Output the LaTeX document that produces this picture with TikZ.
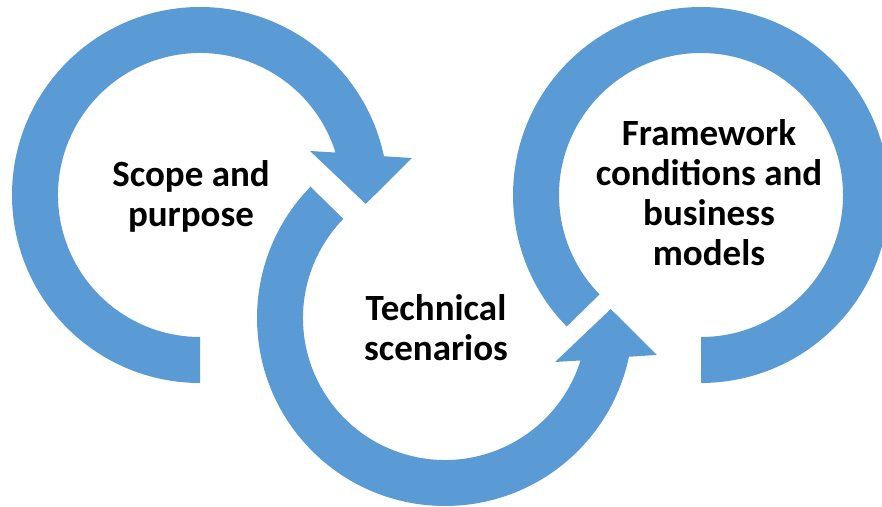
\documentclass[tikz,border=0pt]{standalone}
\usepackage{fontspec}
\setmainfont{Carlito}
\definecolor{arrowblue}{HTML}{5B9BD5}
\begin{document}
\begin{tikzpicture}[x=1pt,y=1pt,
  ringshape/.style={fill=arrowblue, draw=none},
  ringtext/.style={font=\bfseries\fontsize{37}{40}\selectfont, align=center, text=black, inner sep=0pt}]
\useasboundingbox (0,0) rectangle (882,506);
\clip (0,0) rectangle (882,506);
\coordinate (c1) at (200,311);
\coordinate (c2) at (445,188);
\coordinate (c3) at (701,311);
% ring 1: clockwise, arrowhead at right
\fill[ringshape] ([shift={(270:188pt)}]c1) arc[start angle=270, end angle=11.9, radius=188pt]
  -- ([shift={(9.9:215pt)}]c1) -- ([shift={(-3.1:166pt)}]c1) -- ([shift={(21.8:118.5pt)}]c1)
  -- ([shift={(17.4:142pt)}]c1) arc[start angle=17.4, end angle=270, radius=142pt] -- cycle;
% ring 2: counter-clockwise, arrowhead at right
\fill[ringshape] ([shift={(135.7:188pt)}]c2) arc[start angle=135.7, end angle=348.1, radius=188pt]
  -- ([shift={(-9.9:215pt)}]c2) -- ([shift={(3.1:166pt)}]c2) -- ([shift={(-21.8:118.5pt)}]c2)
  -- ([shift={(-17.4:142pt)}]c2) arc[start angle=342.6, end angle=135.7, radius=142pt] -- cycle;
% ring 3: clockwise, no arrowhead
\fill[ringshape] ([shift={(224.4:188pt)}]c3) arc[start angle=224.4, end angle=-90, radius=188pt]
  -- ([shift={(-90:142pt)}]c3) arc[start angle=-90, end angle=224.4, radius=142pt] -- cycle;
\node[ringtext] (scope) at (191,310) {Scope and\\purpose};
\node[ringtext] (tech) at (436,178.5) {Technical\\scenarios};
\node[ringtext] (frame) at (709,313.5) {Framework\\conditions and\\business\\models};
\end{tikzpicture}
\end{document}
